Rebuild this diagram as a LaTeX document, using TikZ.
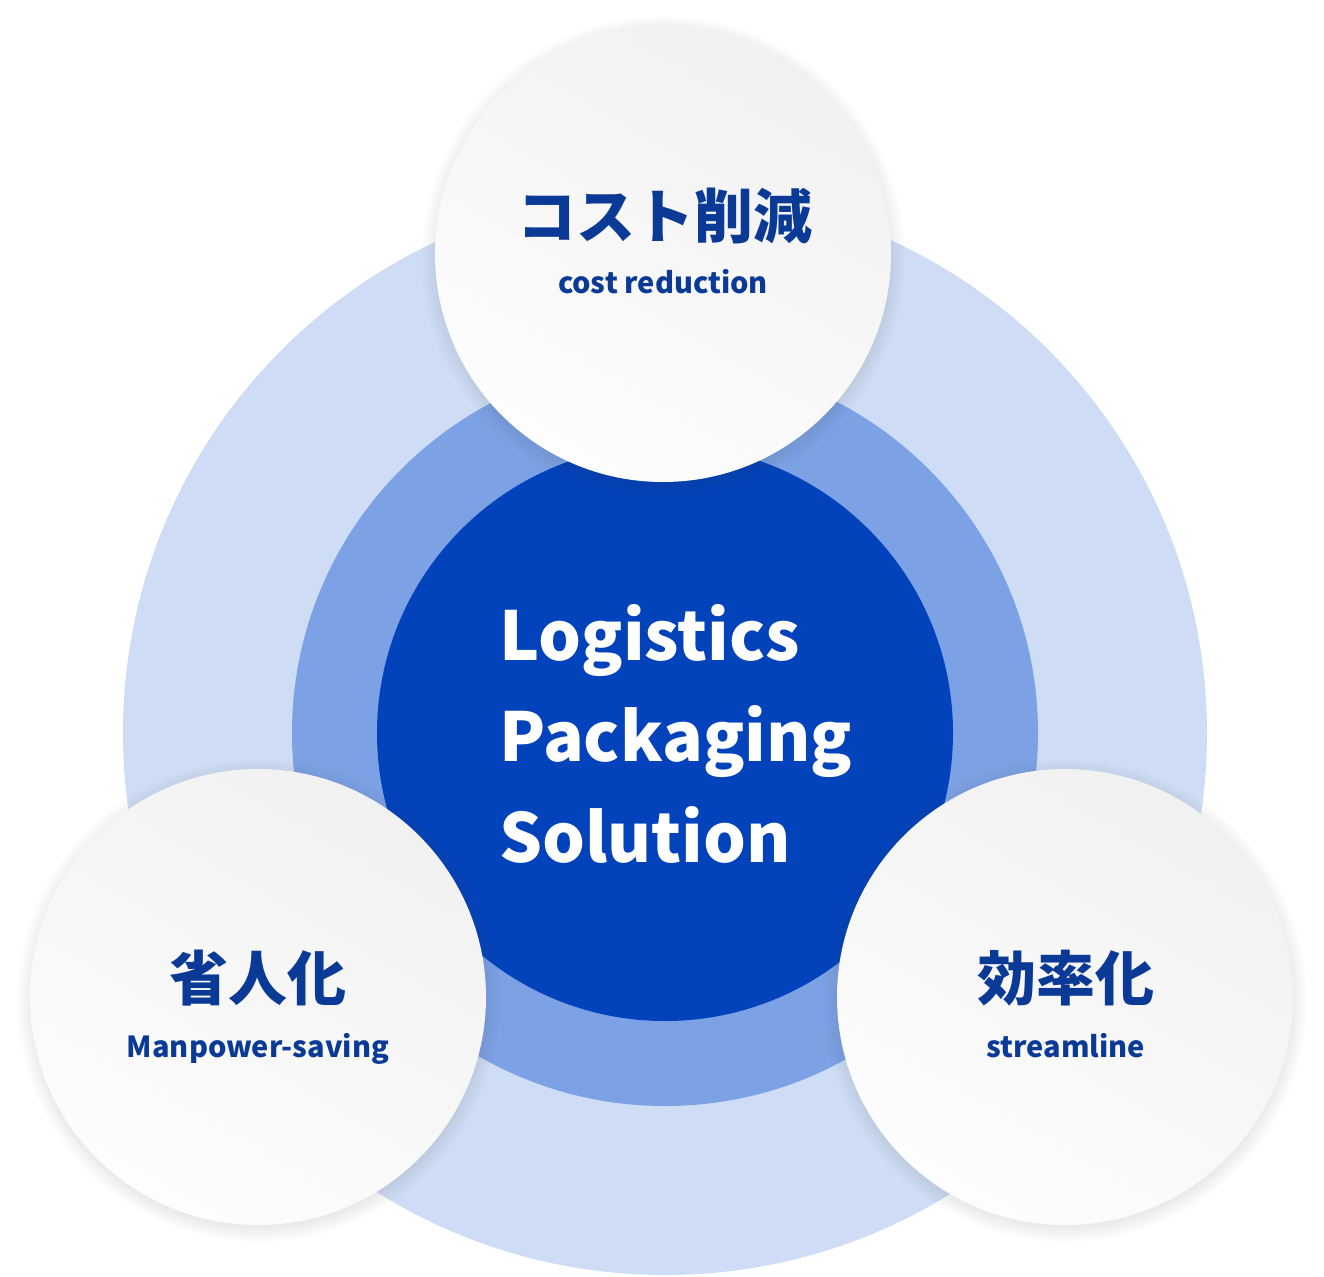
\documentclass[tikz,border=0pt]{standalone}
\usepackage{fontspec}
\setmainfont{Noto Sans CJK JP}
\usetikzlibrary{shadows}
\definecolor{outerc}{HTML}{CEDDF5}
\definecolor{midc}{HTML}{7CA1E4}
\definecolor{innerc}{HTML}{0242BA}
\definecolor{navy}{HTML}{0B3A96}
\definecolor{wtop}{HTML}{F1F1F1}
\definecolor{wbot}{HTML}{FDFDFD}
\tikzset{
  ring/.style={circle, inner sep=0pt, draw=none},
  bubble/.style={circle, inner sep=0pt, minimum size=456pt, draw=none,
    top color=wtop, bottom color=wbot, shading angle=-30,
    circular drop shadow={shadow xshift=0pt, shadow yshift=-3pt, shadow scale=1.06, opacity=0.22, fill=black!80}},
  jp/.style={font=\fontsize{59}{70}\selectfont\bfseries, text=navy, inner sep=0pt},
  en/.style={font=\fontsize{29}{34}\selectfont\bfseries, text=navy, inner sep=0pt, anchor=base},
}
\begin{document}
\begin{tikzpicture}[x=1pt,y=-1pt]
\useasboundingbox (0,0) rectangle (1324,1276);
\node[ring, fill=outerc, minimum size=1084pt] (outer) at (665,733) {};
\node[ring, fill=midc, minimum size=746pt] (mid) at (665,733) {};
\node[ring, fill=innerc, minimum size=576pt] (inner) at (665,733) {};
\node[anchor=base west, align=left, text=white, inner sep=0pt,
  font=\fontsize{67.5}{101}\selectfont\bfseries] (title) at (499,862)
  {Logistics\\Packaging\\Solution};
\node[bubble] (top) at (663,254) {};
\node[bubble] (left) at (258,997) {};
\node[bubble] (right) at (1065,997) {};
\node[jp] (topjp) at (665,216) {コスト削減};
\node[en] (topen) at (663,293) {cost reduction};
\node[jp] (leftjp) at (258,978) {省人化};
\node[en] (leften) at (258,1057) {Manpower-saving};
\node[jp] (rightjp) at (1066,978) {効率化};
\node[en] (righten) at (1066,1057) {streamline};
\end{tikzpicture}
\end{document}
